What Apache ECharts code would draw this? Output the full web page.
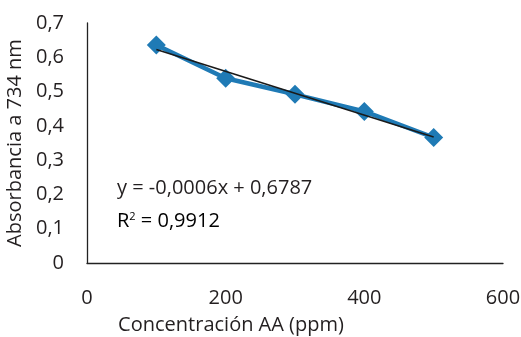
<!DOCTYPE html>
<html><head><meta charset="utf-8">
<script src="https://cdn.jsdelivr.net/npm/echarts@6/dist/echarts.min.js"></script>
<style>html,body{margin:0;padding:0;background:#fff}#c{width:521px;height:337px}</style>
</head><body><div id="c"></div>
<script>
const concentrations = [100, 200, 300, 400, 500];
const absorbance = [0.636, 0.539, 0.492, 0.442, 0.366];
const yTicks = [0, 0.1, 0.2, 0.3, 0.4, 0.5, 0.6, 0.7];
const xTicks = [0, 200, 400, 600];
const equationText = 'y = -0,0006x + 0,6787';
const r2Text = '0,9912';

// least-squares trendline from data
const n = concentrations.length;
const mx = concentrations.reduce((a,b)=>a+b,0)/n;
const my = absorbance.reduce((a,b)=>a+b,0)/n;
let sxy=0,sxx=0;
for(let i=0;i<n;i++){sxy+=(concentrations[i]-mx)*(absorbance[i]-my);sxx+=(concentrations[i]-mx)**2;}
const slope=sxy/sxx, intercept=my-slope*mx;
const xs=[concentrations[0],concentrations[n-1]];
const trend=xs.map(x=>[x,intercept+slope*x]);

const font='"Open Sans", sans-serif';
const fs=20;
const chart=echarts.init(document.getElementById('c'),null,{renderer:'canvas'});
chart.setOption({
  animation:false,
  grid:{left:87,right:18,top:23,bottom:74,containLabel:false,outerBoundsMode:'none'},
  xAxis:{type:'value',min:xTicks[0],max:xTicks[xTicks.length-1],interval:200,
    axisLine:{show:true,lineStyle:{color:'#222',width:1.3}},
    axisTick:{show:false},splitLine:{show:false},
    axisLabel:{margin:25,color:'#231f20',fontSize:fs,fontFamily:font,formatter:v=>String(v)},
    name:'Concentración AA (ppm)',nameLocation:'middle',nameGap:52,
    nameTextStyle:{color:'#231f20',fontSize:fs,fontFamily:font,padding:[0,128,0,0]}},
  yAxis:{type:'value',min:yTicks[0],max:yTicks[yTicks.length-1],interval:0.1,
    axisLine:{show:true,lineStyle:{color:'#222',width:1.3}},
    axisTick:{show:false},splitLine:{show:false},
    axisLabel:{margin:23,color:'#231f20',fontSize:fs,fontFamily:font,
      formatter:v=>v===0?'0':v.toFixed(1).replace('.',',')},
    name:'Absorbancia a 734 nm',nameLocation:'middle',nameGap:54,
    nameTextStyle:{color:'#231f20',fontSize:fs,fontFamily:font}},
  series:[
    {type:'line',data:concentrations.map((x,i)=>[x,absorbance[i]]),
     symbol:'diamond',symbolSize:19,itemStyle:{color:'#1f7ab5'},
     lineStyle:{color:'#1f7ab5',width:4.5},z:2},
    {type:'line',data:trend,symbol:'none',lineStyle:{color:'#1a1a1a',width:1.6},z:3}
  ],
  graphic:[
    {type:'text',left:117,top:178,style:{text:equationText,fill:'#231f20',font:fs+'px '+font}},
    {type:'text',left:117,top:211,style:{
      text:'{a|R}{s|2}{a| = '+r2Text+'}',
      rich:{a:{fontSize:fs,fontFamily:font,color:'#231f20'},
            s:{fontSize:11,fontFamily:font,color:'#231f20',verticalAlign:'top',padding:[0,0,9,0]}}}}
  ]
});
</script></body></html>
